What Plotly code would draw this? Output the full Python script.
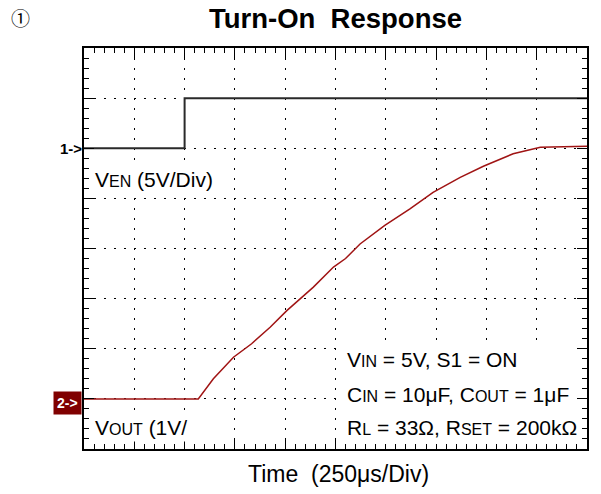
import plotly.graph_objects as go

# ---------------- data ----------------
# time in microseconds, 250 us per division, 10 divisions
ch1_time_us = [0, 500, 500, 2500]
ch1_volts = [0, 0, 5, 5]            # V_EN, 5 V/div, 0 V at division 6

ch2_time_us = [0, 568, 643, 743, 833, 925, 1008, 1140, 1240, 1300, 1372,
               1495, 1620, 1735, 1870, 1985, 2133, 2268, 2500]
ch2_volts = [0, 0, 0.40, 0.83, 1.10, 1.43, 1.76, 2.23, 2.63, 2.80, 3.09,
             3.46, 3.79, 4.12, 4.42, 4.64, 4.89, 5.02, 5.04]   # V_OUT, 1 V/div

time_per_div = 250
n_xdiv, n_ydiv = 10, 8
ch1_scale, ch1_ref_div = 5, 6
ch2_scale, ch2_ref_div = 1, 1

# ---------------- geometry (page pixels) ----------------
W, H = 601, 494
PL, PR, PT, PB = 84, 587, 48, 449          # plot box on the page
PW, PH = PR - PL, PB - PT
FONT = "Liberation Sans, Arial, sans-serif"


def px(x):
    return (x - PL) / PW


def py(y):
    return (PB - y) / PH


xrange_ = [0, n_xdiv * time_per_div]
ch1_range = [-ch1_ref_div * ch1_scale, (n_ydiv - ch1_ref_div) * ch1_scale]
ch2_range = [-ch2_ref_div * ch2_scale, (n_ydiv - ch2_ref_div) * ch2_scale]

fig = go.Figure()
fig.add_trace(go.Scatter(x=ch1_time_us, y=ch1_volts, mode="lines",
                         line=dict(color="#2a2a2a", width=2),
                         xaxis="x", yaxis="y", showlegend=False, hoverinfo="skip"))
fig.add_trace(go.Scatter(x=ch2_time_us, y=ch2_volts, mode="lines",
                         line=dict(color="#a01414", width=1.5),
                         xaxis="x", yaxis="y2", showlegend=False, hoverinfo="skip"))

grid_dash = "1.5px,8.5px"
common_x = dict(range=xrange_, showticklabels=False, zeroline=False, fixedrange=True)
common_y = dict(range=ch1_range, showticklabels=False, zeroline=False, fixedrange=True)


def minor(dt, side, ln):
    return dict(dtick=dt, tick0=0, ticks=side, ticklen=ln, tickwidth=1,
                tickcolor="black", showgrid=False)


fig.update_layout(
    width=W, height=H,
    margin=dict(l=PL, r=W - PR, t=PT, b=H - PB, pad=0),
    paper_bgcolor="white", plot_bgcolor="white",
    font=dict(family=FONT, color="black"),
    xaxis=dict(**common_x, dtick=time_per_div, tick0=0,
               showline=True, linecolor="black", linewidth=2, mirror="ticks",
               ticks="inside", ticklen=10, tickwidth=1, tickcolor="black",
               showgrid=True, gridcolor="black", gridwidth=1.2, griddash=grid_dash,
               minor=minor(time_per_div / 5, "inside", 5)),
    yaxis=dict(**common_y, dtick=ch1_scale, tick0=0,
               showline=True, linecolor="black", linewidth=2, mirror="ticks",
               ticks="inside", ticklen=10, tickwidth=1, tickcolor="black",
               showgrid=True, gridcolor="black", gridwidth=1.2, griddash=grid_dash,
               minor=minor(ch1_scale / 5, "inside", 5)),
    yaxis2=dict(range=ch2_range, overlaying="y", visible=False, fixedrange=True),
    # centre cross-hair axes with ticks on both sides
    xaxis2=dict(**common_x, overlaying="x", anchor="free", position=0.5, side="bottom",
                dtick=time_per_div, tick0=0, showline=True, linecolor="black", linewidth=1.5,
                ticks="inside", ticklen=8, tickwidth=1.2, tickcolor="black", showgrid=False,
                minor=minor(time_per_div / 5, "inside", 3)),
    xaxis3=dict(**common_x, overlaying="x", anchor="free", position=0.5, side="bottom",
                dtick=time_per_div, tick0=0, showline=False,
                ticks="outside", ticklen=8, tickwidth=1.2, tickcolor="black", showgrid=False,
                minor=minor(time_per_div / 5, "outside", 3)),
    yaxis3=dict(**common_y, overlaying="y", anchor="free", position=0.5, side="left",
                dtick=ch1_scale, tick0=0, showline=True, linecolor="black", linewidth=1.5,
                ticks="inside", ticklen=8, tickwidth=1.2, tickcolor="black", showgrid=False,
                minor=minor(ch1_scale / 5, "inside", 3)),
    yaxis4=dict(**common_y, overlaying="y", anchor="free", position=0.5, side="left",
                dtick=ch1_scale, tick0=0, showline=False,
                ticks="outside", ticklen=8, tickwidth=1.2, tickcolor="black", showgrid=False,
                minor=minor(ch1_scale / 5, "outside", 3)),
    title=dict(text="<b>Turn-On  Response</b>", x=0.5, xref="paper", xanchor="center",
               y=1 - 18 / H, yref="container", yanchor="middle",
               font=dict(family=FONT, size=27.5, color="black")),
)

# white panel behind the test-condition text
fig.add_shape(type="rect", xref="paper", yref="paper", layer="above",
              x0=px(341), x1=px(577), y0=py(444), y1=py(342),
              fillcolor="white", line=dict(width=0))

sm = 'style="font-size:16px"'
ann = [
    dict(text="①", x=px(20.5), y=py(17), size=19, family="Noto Sans CJK JP",
         xanchor="center"),
    dict(text="<b>1-></b>", x=px(83), y=py(148), size=15, xanchor="right"),
    dict(text="<b>2-></b>", x=px(82), y=py(403), size=14, xanchor="right",
         color="white", bg="#800000", pad=3),
    dict(text=f"V<span {sm}>EN</span> (5V/Div)", x=px(92), y=py(179), size=21,
         xanchor="left", bg="white", pad=2),
    dict(text=f"V<span {sm}>OUT</span> (1V/", x=px(92), y=py(427), size=21,
         xanchor="left", bg="white", pad=2),
    dict(text=f"V<span {sm}>IN</span> = 5V, S1 = ON", x=px(346), y=py(359), size=21,
         xanchor="left"),
    dict(text=f"C<span {sm}>IN</span> = 10μF, C<span {sm}>OUT</span> = 1μF", x=px(346),
         y=py(394), size=21, xanchor="left"),
    dict(text=f"R<span {sm}>L</span> = 33Ω, R<span {sm}>SET</span> = 200kΩ", x=px(346),
         y=py(427), size=21, xanchor="left"),
    dict(text="Time  (250μs/Div)", x=px(338), y=py(474), size=23, xanchor="center"),
]
for a in ann:
    fig.add_annotation(
        text=a["text"], x=a["x"], y=a["y"], xref="paper", yref="paper",
        xanchor=a.get("xanchor", "center"), yanchor="middle", showarrow=False,
        font=dict(family=a.get("family", FONT), size=a["size"], color=a.get("color", "black")),
        bgcolor=a.get("bg", "rgba(0,0,0,0)"), borderpad=a.get("pad", 0),
    )

# the page's default 8px body margin would shift the whole figure; remove it
fig.write_html("out.html", config={"displayModeBar": False},
               post_script="document.body.style.margin='0px';")
